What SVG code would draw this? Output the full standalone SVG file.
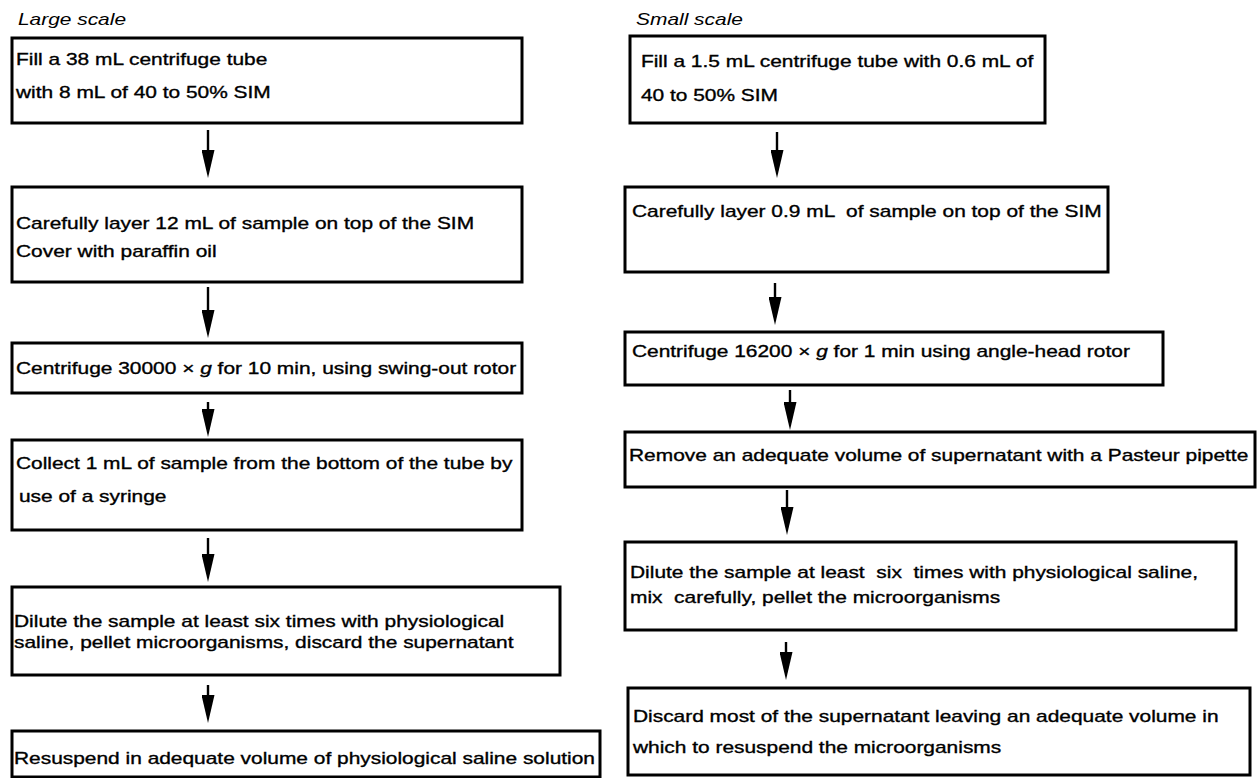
<svg xmlns="http://www.w3.org/2000/svg" width="1259" height="778" viewBox="0 0 1259 778">
<style>
.bg{fill:#fff}
.box{fill:#fff;stroke:#000;stroke-width:3}
.t{font-family:"Liberation Sans",Arial,sans-serif;font-size:17px;fill:#000;stroke:#000;stroke-width:0.35}
.h{font-family:"Liberation Sans",Arial,sans-serif;font-size:17px;font-style:italic;fill:#000}
.ar{stroke:#000;stroke-width:2.4;fill:none;marker-end:url(#ah)}
</style>
<defs>
<marker id="ah" viewBox="0 0 28 13" refX="8" refY="6.5" markerWidth="28" markerHeight="13" orient="auto" markerUnits="userSpaceOnUse">
<path d="M0,0 L28,6.5 L0,13 Z" fill="#000"/>
</marker>
</defs>
<rect class="bg" x="0" y="0" width="1259" height="778"/>
<g id="headings" transform="scale(1.23 1)">
<text class="h" x="14.6" y="25">Large scale</text>
<text class="h" x="517.1" y="25">Small scale</text>
</g>
<g id="L1"><rect class="box" x="12" y="38" width="510" height="85"/>
<g transform="scale(1.23 1)"><text class="t" x="13" y="65">Fill a 38 mL centrifuge tube</text><text class="t" x="13" y="98">with 8 mL of 40 to 50% SIM</text></g></g>
<g id="L2"><rect class="box" x="12" y="187" width="510" height="95"/>
<g transform="scale(1.23 1)"><text class="t" x="13" y="229">Carefully layer 12 mL of sample on top of the SIM</text><text class="t" x="13" y="257">Cover with paraffin oil</text></g></g>
<g id="L3"><rect class="box" x="12" y="343" width="510" height="50"/>
<g transform="scale(1.23 1)"><text class="t" x="13" y="374">Centrifuge 30000 × <tspan font-style="italic">g</tspan> for 10 min, using swing-out rotor</text></g></g>
<g id="L4"><rect class="box" x="12" y="440" width="510" height="90"/>
<g transform="scale(1.23 1)"><text class="t" x="13" y="469">Collect 1 mL of sample from the bottom of the tube by</text><text class="t" x="15.4" y="502">use of a syringe</text></g></g>
<g id="L5"><rect class="box" x="12" y="587" width="548" height="88"/>
<g transform="scale(1.23 1)"><text class="t" x="11.4" y="627">Dilute the sample at least six times with physiological</text><text class="t" x="11.4" y="648">saline, pellet microorganisms, discard the supernatant</text></g></g>
<g id="L6"><rect class="box" x="12" y="731" width="588" height="46"/>
<g transform="scale(1.23 1)"><text class="t" x="11.4" y="764">Resuspend in adequate volume of physiological saline solution</text></g></g>
<g id="R1"><rect class="box" x="630" y="36" width="415" height="87"/>
<g transform="scale(1.23 1)"><text class="t" x="521.1" y="67">Fill a 1.5 mL centrifuge tube with 0.6 mL of</text><text class="t" x="521.1" y="101">40 to 50% SIM</text></g></g>
<g id="R2"><rect class="box" x="625" y="187" width="483" height="85"/>
<g transform="scale(1.23 1)"><text class="t" x="513.8" y="217" xml:space="preserve">Carefully layer 0.9 mL  of sample on top of the SIM</text></g></g>
<g id="R3"><rect class="box" x="625" y="332" width="538" height="53"/>
<g transform="scale(1.23 1)"><text class="t" x="513.8" y="357">Centrifuge 16200 × <tspan font-style="italic">g</tspan> for 1 min using angle-head rotor</text></g></g>
<g id="R4"><rect class="box" x="625" y="432" width="630" height="55"/>
<g transform="scale(1.23 1)"><text class="t" x="511.4" y="461">Remove an adequate volume of supernatant with a Pasteur pipette</text></g></g>
<g id="R5"><rect class="box" x="625" y="542" width="611" height="88"/>
<g transform="scale(1.23 1)"><text class="t" x="512.2" y="578" xml:space="preserve">Dilute the sample at least  six  times with physiological saline,</text><text class="t" x="512.2" y="603" xml:space="preserve">mix  carefully, pellet the microorganisms</text></g></g>
<g id="R6"><rect class="box" x="628" y="688" width="622" height="87"/>
<g transform="scale(1.23 1)"><text class="t" x="514.6" y="722">Discard most of the supernatant leaving an adequate volume in</text><text class="t" x="514.6" y="753">which to resuspend the microorganisms</text></g></g>
<g id="connectors">
<line class="ar" x1="208" y1="130" x2="208" y2="158"/>
<line class="ar" x1="208" y1="287" x2="208" y2="318"/>
<line class="ar" x1="208" y1="402" x2="208" y2="417"/>
<line class="ar" x1="208" y1="538" x2="208" y2="562"/>
<line class="ar" x1="208" y1="685" x2="208" y2="703"/>
<line class="ar" x1="777" y1="132" x2="777" y2="158"/>
<line class="ar" x1="775" y1="283" x2="775" y2="305"/>
<line class="ar" x1="790" y1="390" x2="790" y2="410"/>
<line class="ar" x1="787" y1="490" x2="787" y2="515"/>
<line class="ar" x1="786" y1="642" x2="786" y2="660"/>
</g>
</svg>
